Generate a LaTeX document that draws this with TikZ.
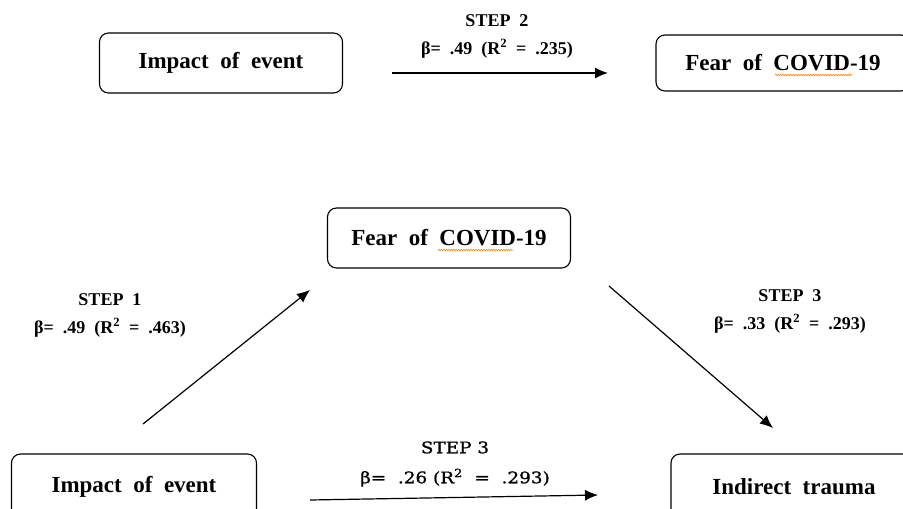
\documentclass[tikz,border=0pt]{standalone}
\usepackage{fontspec}
\setmainfont{Liberation Serif}
\newfontfamily\plainfont{DejaVu Serif}[FakeStretch=1.15, FakeBold=1]
\usepackage{tikz}
\usetikzlibrary{arrows.meta, positioning, decorations.pathmorphing}

\begin{document}
\begin{tikzpicture}[x=1pt, y=-1pt, >={Latex[length=13pt, width=11pt]}, thick]
    % Styles
    \tikzstyle{box} = [rectangle, draw, rounded corners=9pt, line width=1.1pt, minimum width=243pt, minimum height=60pt, font=\fontsize{23}{27}\selectfont\bfseries]
    \tikzstyle{lbl} = [align=center, font=\fontsize{18}{28}\selectfont\bfseries]
    \tikzstyle{link} = [->, line width=1.2pt]
    \tikzstyle{squig} = [orange, line width=0.6pt, decorate, decoration={snake, amplitude=0.8pt, segment length=2.5pt}]

    \useasboundingbox (0,0) rectangle (903,509);
    \clip (0,0) rectangle (903,509);

    % Nodes
    \node [box] (impA) at (221,63) {Impact\ \ of\ \ event};
    \node [box, minimum width=254pt, minimum height=56pt] (fearA) at (783,63) {Fear\ \ of\ \ COVID-19};
    \node [box] (fearB) at (449,238) {Fear\ \ of\ \ COVID-19};
    \node [box, minimum width=245pt, minimum height=66pt] (impB) at (134,487) {Impact\ \ of\ \ event};
    \node [box, minimum width=246pt, minimum height=66pt] (trauma) at (794,487) {Indirect\ \ trauma};

    % Labels
    \node [lbl] (lblA) at (497,36) {STEP\ \ 2\\β=\ \ .49\ \ (R\textsuperscript{2}\ \ =\ \ .235)};
    \node [lbl] (lblB) at (110,315) {STEP\ \ 1\\β=\ \ .49\ \ (R\textsuperscript{2}\ \ =\ \ .463)};
    \node [lbl] (lblC) at (790,311) {STEP\ \ 3\\β=\ \ .33\ \ (R\textsuperscript{2}\ \ =\ \ .293)};
    \node [lbl, font=\fontsize{16}{30}\selectfont\plainfont] (lblD) at (455,464) {STEP\ 3\\β=\ \ .26\ (R\textsuperscript{2}\ \ =\ \ .293)};

    % Arrow ends
    \coordinate (a1) at (392,73);
    \coordinate (a2) at (608,73);
    \coordinate (b1) at (143,424);
    \coordinate (b2) at (310,290);
    \coordinate (c1) at (609,286);
    \coordinate (c2) at (773,428);
    \coordinate (d1) at (310,500);
    \coordinate (d2) at (598,495);

    % Connections
    \draw [link] (a1) -- (a2);
    \draw [link] (b1) -- (b2);
    \draw [link] (c1) -- (c2);
    \draw [link] (d1) -- (d2);

    % Spell-check marks
    \draw [squig] (775,75) -- (852,75);
    \draw [squig] (438,250) -- (513,250);
\end{tikzpicture}
\end{document}
